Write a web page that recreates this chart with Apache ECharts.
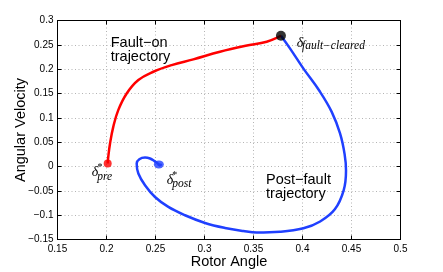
<!DOCTYPE html>
<html><head><meta charset="utf-8">
<script src="https://cdn.jsdelivr.net/npm/echarts@6/dist/echarts.min.js"></script>
<style>html,body{margin:0;padding:0;background:#fff}#c{width:443px;height:272px}</style>
</head><body><div id="c"></div>
<script>
// Fault-on trajectory (rotor angle, angular velocity)
const faultOnAngle = [0.2012,0.2018,0.2036,0.2069,0.2120,0.2206,0.2325,0.2478,0.2665,0.2886,0.3158,0.3420,0.3635,0.3780];
const faultOnVel   = [0.0062,0.0200,0.0473,0.0815,0.1158,0.1500,0.1776,0.1947,0.2084,0.2202,0.2358,0.2480,0.2564,0.2687];
// Post-fault trajectory
const postAngle = [0.3780,0.3872,0.4008,0.4179,0.4298,0.4383,0.4430,0.4444,0.4420,0.4330,0.4180,0.4010,0.3770,0.3533,0.3396,0.3209,0.3005,0.2801,0.2631,0.2495,0.2393,0.2325,0.2308,0.2335,0.2393,0.2444,0.2490,0.2520,0.2540,0.2555,0.2545,0.2530,0.2540];
const postVel   = [0.2687,0.2428,0.2016,0.1535,0.1123,0.0679,0.0250,-0.0080,-0.0490,-0.0880,-0.1130,-0.1270,-0.1340,-0.1355,-0.1325,-0.1263,-0.1160,-0.1002,-0.0831,-0.0626,-0.0385,-0.0144,0.0062,0.0150,0.0185,0.0165,0.0110,0.0065,0.0040,0.0035,0.0025,0.0040,0.0045];
const preEquilibrium = [0.2012, 0.0062];
const postEquilibrium = [0.2534, 0.0043];
const clearingPoint = [0.3780, 0.2687];
const xMin = 0.15, xMax = 0.5, xStep = 0.05;
const yMin = -0.15, yMax = 0.3, yStep = 0.05;

const zip = (a, b) => a.map((v, i) => [v, b[i]]);
const fmt = v => (Math.round(v * 100) / 100).toString().replace('-', '\u2212');
const sans = '"Liberation Sans", Arial, sans-serif';
const serif = '"Liberation Serif", "DejaVu Serif", serif';

const chart = echarts.init(document.getElementById('c'), null, {renderer: 'canvas'});
const tick = {inside: true, length: 4, lineStyle: {color: '#000'}};
const axLine = {show: true, onZero: false, lineStyle: {color: '#000', width: 1}};
const split = {show: true, lineStyle: {color: '#b4b4b4', type: [1, 2.5], width: 1}};
chart.setOption({
  animation: false,
  grid: {left: 57.5, right: 42.5, top: 20.5, bottom: 32.5, containLabel: false, outerBoundsMode: 'none'},
  xAxis: [{
    type: 'value', min: xMin, max: xMax, interval: xStep,
    name: 'Rotor Angle', nameLocation: 'middle', nameGap: 15, nameMoveOverlap: false,
    nameTextStyle: {fontFamily: sans, fontSize: 14.5, color: '#000'},
    axisLine: axLine, axisTick: tick, splitLine: split,
    axisLabel: {formatter: fmt, fontFamily: sans, fontSize: 10, color: '#000', margin: 5}
  }, {
    type: 'value', position: 'top', min: xMin, max: xMax, interval: xStep,
    axisLine: axLine, axisTick: tick, splitLine: {show: false}, axisLabel: {show: false}
  }],
  yAxis: [{
    type: 'value', min: yMin, max: yMax, interval: yStep,
    name: 'Angular Velocity', nameLocation: 'middle', nameGap: 29, nameMoveOverlap: false,
    nameTextStyle: {fontFamily: sans, fontSize: 14.5, color: '#000'},
    axisLine: axLine, axisTick: tick, splitLine: split,
    axisLabel: {formatter: fmt, fontFamily: sans, fontSize: 10, color: '#000', margin: 4}
  }, {
    type: 'value', position: 'right', min: yMin, max: yMax, interval: yStep,
    axisLine: axLine, axisTick: tick, splitLine: {show: false}, axisLabel: {show: false}
  }],
  series: [
    {type: 'line', data: zip(postAngle, postVel), smooth: 0.4, symbol: 'none',
     lineStyle: {color: '#2040ff', width: 2.5}, z: 2},
    {type: 'line', data: zip(faultOnAngle, faultOnVel), smooth: 0.4, symbol: 'none',
     lineStyle: {color: '#ff0000', width: 2.5}, z: 3},
    {type: 'scatter', data: [preEquilibrium], symbolSize: 8, itemStyle: {color: '#ff0000'}, z: 4},
    {type: 'scatter', data: [postEquilibrium], symbolSize: [10, 8], itemStyle: {color: '#2040ff'}, z: 4},
    {type: 'scatter', data: [clearingPoint], symbolSize: 10, itemStyle: {color: '#000'}, z: 5}
  ]
});

// annotation texts, anchored in data coordinates
const notes = [
  {at: [0.2043, 0.2399], text: 'Fault\u2212on\ntrajectory', font: sans, size: 14.5, style: 'normal', lh: 14},
  {at: [0.3628, -0.0420], text: 'Post\u2212fault\ntrajectory', font: sans, size: 14.5, style: 'normal', lh: 14},
  {at: [0.3941, 0.2537], text: '\u03b4', font: serif, size: 14, style: 'italic'},
  {at: [0.3995, 0.2470], text: 'fault\u2212cleared', font: serif, size: 11.5, style: 'italic'},
  {at: [0.1849, -0.0117], text: '\u03b4', font: serif, size: 14, style: 'italic'},
  {at: [0.1908, -0.0025], text: '*', font: serif, size: 10, style: 'normal'},
  {at: [0.1906, -0.0210], text: 'pre', font: serif, size: 11.5, style: 'italic'},
  {at: [0.2614, -0.0282], text: '\u03b4', font: serif, size: 14, style: 'italic'},
  {at: [0.2671, -0.0175], text: '*', font: serif, size: 10, style: 'normal'},
  {at: [0.2671, -0.0364], text: 'post', font: serif, size: 11.5, style: 'italic'}
];
const graphic = notes.map(n => {
  const p = chart.convertToPixel({gridIndex: 0}, n.at);
  return {type: 'text', x: p[0], y: p[1], z: 10, silent: true,
    style: {text: n.text, fill: '#000', fontFamily: n.font, fontSize: n.size, fontStyle: n.style,
      lineHeight: n.lh || n.size, align: 'left', verticalAlign: 'middle'}};
});
chart.setOption({graphic: graphic});
</script></body></html>
